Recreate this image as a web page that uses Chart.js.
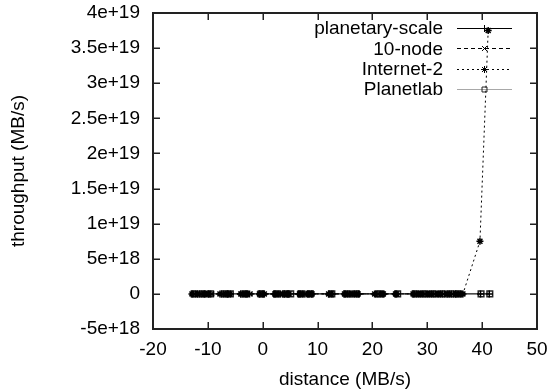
<!DOCTYPE html>
<html>
<head>
<meta charset="utf-8">
<script src="https://cdn.jsdelivr.net/npm/chart.js@4/dist/chart.umd.min.js"></script>
<style>
  body { margin: 0; background: #fff; }
</style>
</head>
<body>
<canvas id="grafico" width="553" height="391"></canvas>
<script>
// series names
const nomes = ['planetary-scale', '10-node', 'Internet-2', 'Planetlab'];

// planetary-scale
const planetaryX = [-12.7, -12.3, -11.9, -11.5, -11.1, -10.7, -10.3, -9.9, -9.5,
  -7.5, -7.1, -6.7, -6.3, -5.9,
  -4.0, -3.6, -3.2, -2.8, -2.4,
  -0.5, -0.1, 0.1,
  2.0, 2.4, 2.8, 3.2, 3.6, 4.0, 4.4, 4.8,
  6.5, 6.9, 7.3, 7.7, 8.1, 8.5, 8.9,
  12.1, 12.5, 12.8,
  15.1, 15.5, 15.9, 16.3, 16.7, 17.1, 17.6,
  20.6, 21.0, 21.4, 21.8, 22.1,
  24.4,
  27.6, 28.0, 28.4, 28.8, 29.2, 29.6, 30.0, 30.4, 30.8, 31.2, 31.6, 32.0, 32.4, 32.8, 33.2, 33.6, 34.0, 34.4, 34.8, 35.2, 35.6, 36.0,
  36.3, 39.7, 41.3];
const planetaryY = [0, 0, 0, 0, 0, 0, 0, 0, 0,
  0, 0, 0, 0, 0,
  0, 0, 0, 0, 0,
  0, 0, 0,
  0, 0, 0, 0, 0, 0, 0, 0,
  0, 0, 0, 0, 0, 0, 0,
  0, 0, 0,
  0, 0, 0, 0, 0, 0, 0,
  0, 0, 0, 0, 0,
  0,
  0, 0, 0, 0, 0, 0, 0, 0, 0, 0, 0, 0, 0, 0, 0, 0, 0, 0, 0, 0, 0, 0,
  0, 0, 0];

// 10-node
const nodeX = [-12.4, -11.2, -10.0, -9.3, -7.2, -6.0, -3.8, -2.3, -0.2, 2.4, 3.2, 4.8, 6.9, 7.7, 8.5, 12.4, 15.5, 16.4, 17.2, 21.0, 21.8, 24.4, 28.0, 28.8, 29.6, 31.3, 32.9, 34.5, 35.4, 36.1];
const nodeY = [0, 0, 0, 0, 0, 0, 0, 0, 0, 0, 0, 0, 0, 0, 0, 0, 0, 0, 0, 0, 0, 0, 0, 0, 0, 0, 0, 0, 0, 0];

// Internet-2
const internetX = [-12.9, -11.8, -10.6, -9.8, -7.8, -6.4, -4.0, -3.0, -0.6, 0.3, 2.2, 3.9, 4.6, 6.7, 8.3, 9.0, 12.0, 14.9, 16.1, 17.4, 20.4, 22.0, 24.2, 27.4, 28.6, 30.2, 31.9, 33.6, 35.2, 36.5, 39.6, 41.1];
const internetY = [0, 0, 0, 0, 0, 0, 0, 0, 0, 0, 0, 0, 0, 0, 0, 0, 0, 0, 0, 0, 0, 0, 0, 0, 0, 0, 0, 0, 0, 0, 7.5e18, 3.75e19];

// Planetlab
const planetlabX = [-12.5, -11.0, -9.5, -7.0, -5.9, -3.2, -0.3, 2.6, 4.2, 5.1, 7.0, 8.7, 12.6, 15.3, 17.0, 21.2, 24.6, 27.8, 29.4, 31.0, 32.7, 34.3, 35.6, 39.8, 41.4];
const planetlabY = [0, 0, 0, 0, 0, 0, 0, 0, 0, 0, 0, 0, 0, 0, 0, 0, 0, 0, 0, 0, 0, 0, 0, 0, 0];

// tick labels
const xTickLabels = ['-20', '-10', '0', '10', '20', '30', '40', '50'];
const yTickLabels = ['-5e+18', '0', '5e+18', '1e+19', '1.5e+19', '2e+19', '2.5e+19', '3e+19', '3.5e+19', '4e+19'];

const fonte = '"Liberation Sans", Arial, sans-serif';

function pares(xs, ys) {
  return xs.map((x, i) => ({ x: x, y: ys[i] }));
}

function desenhaPonto(ctx, estilo, x, y, r) {
  ctx.beginPath();
  if (estilo === 'cross' || estilo === 'star') {
    ctx.moveTo(x - r, y); ctx.lineTo(x + r, y);
    ctx.moveTo(x, y - r); ctx.lineTo(x, y + r);
  }
  if (estilo === 'crossRot' || estilo === 'star') {
    const d = r * Math.SQRT1_2;
    ctx.moveTo(x - d, y - d); ctx.lineTo(x + d, y + d);
    ctx.moveTo(x - d, y + d); ctx.lineTo(x + d, y - d);
  }
  if (estilo === 'rect') {
    const s = r * Math.SQRT1_2;
    ctx.rect(x - s, y - s, 2 * s, 2 * s);
  }
  ctx.stroke();
}

// box with inward ticks on all four sides, gnuplot style
// edges taken from the scales themselves
const moldura = {
  id: 'moldura',
  afterDraw(chart) {
    const { ctx, scales } = chart;
    const sx = scales.x, sy = scales.y;
    const l = Math.round(sx.getPixelForValue(sx.min)), r = Math.round(sx.getPixelForValue(sx.max));
    const t = Math.round(sy.getPixelForValue(sy.max)), b = Math.round(sy.getPixelForValue(sy.min));
    ctx.save();
    ctx.fillStyle = '#222';
    ctx.fillRect(l - 1, t - 1, r - l + 2, 2);
    ctx.fillRect(l - 1, b - 1, r - l + 2, 2);
    ctx.fillRect(l - 1, t - 1, 2, b - t + 2);
    ctx.fillRect(r - 1, t - 1, 2, b - t + 2);
    sx.ticks.forEach(tk => {
      const px = Math.round(sx.getPixelForValue(tk.value));
      ctx.fillRect(px - 0.5, b - 7, 1.5, 7);
      ctx.fillRect(px - 0.5, t, 1.5, 7);
    });
    sy.ticks.forEach(tk => {
      const py = Math.round(sy.getPixelForValue(tk.value));
      ctx.fillRect(l, py - 0.5, 7, 1.5);
      ctx.fillRect(r - 7, py - 0.5, 7, 1.5);
    });
    ctx.restore();
  }
};

// key in the top right corner
const legenda = {
  id: 'legenda',
  afterDraw(chart) {
    const ctx = chart.ctx;
    ctx.save();
    ctx.font = '19px ' + fonte;
    ctx.textAlign = 'right';
    ctx.textBaseline = 'middle';
    chart.data.datasets.forEach((ds, i) => {
      const y = 28 + i * 20.3;
      ctx.fillStyle = '#000';
      ctx.fillText(ds.label, 443, y + 1);
      ctx.strokeStyle = ds.borderColor;
      ctx.lineWidth = 1;
      ctx.setLineDash(ds.borderDash || []);
      ctx.beginPath();
      ctx.moveTo(457, Math.round(y) + 0.5);
      ctx.lineTo(512, Math.round(y) + 0.5);
      ctx.stroke();
      ctx.setLineDash([]);
      ctx.strokeStyle = ds.pointBorderColor;
      desenhaPonto(ctx, ds.pointStyle, 484.5, Math.round(y) + 0.5, 3.5);
    });
    ctx.restore();
  }
};

new Chart(document.getElementById('grafico'), {
  type: 'line',
  data: {
    datasets: [{
      label: nomes[0],
      data: pares(planetaryX, planetaryY),
      borderColor: '#000',
      borderWidth: 1,
      pointStyle: 'cross',
      pointRadius: 3.5,
      pointBorderColor: '#000',
      pointBorderWidth: 1.5,
      fill: false
    }, {
      label: nomes[1],
      data: pares(nodeX, nodeY),
      borderColor: '#000',
      borderWidth: 1,
      borderDash: [4, 3],
      pointStyle: 'crossRot',
      pointRadius: 3.5,
      pointBorderColor: '#000',
      pointBorderWidth: 1.5,
      fill: false
    }, {
      label: nomes[2],
      data: pares(internetX, internetY),
      borderColor: '#000',
      borderWidth: 1,
      borderDash: [2, 3],
      pointStyle: 'star',
      pointRadius: 3.5,
      pointBorderColor: '#000',
      pointBorderWidth: 1.5,
      fill: false
    }, {
      label: nomes[3],
      data: pares(planetlabX, planetlabY),
      borderColor: '#a8a8a8',
      borderWidth: 1,
      pointStyle: 'rect',
      pointRadius: 4,
      pointBorderColor: '#222',
      pointBackgroundColor: 'rgba(0,0,0,0)',
      pointBorderWidth: 1.5,
      fill: false
    }]
  },
  options: {
    responsive: false,
    animation: false,
    layout: { padding: { top: 13, right: 16, left: 0, bottom: 0 } },
    plugins: {
      legend: { display: false },
      tooltip: { enabled: false }
    },
    scales: {
      x: {
        type: 'linear',
        min: -20,
        max: 50,
        grid: { display: false, drawTicks: false },
        border: { display: false },
        ticks: {
          stepSize: 10,
          padding: 9,
          color: '#000',
          font: { family: fonte, size: 19 },
          maxRotation: 0,
          callback: (v, i) => xTickLabels[i]
        },
        title: {
          display: true,
          text: 'distance (MB/s)',
          color: '#000',
          font: { family: fonte, size: 19 },
          padding: { top: 2, bottom: 0 }
        },
        afterFit: s => { s.height = 62; s.paddingLeft = 0; s.paddingRight = 0; }
      },
      y: {
        type: 'linear',
        min: -5e18,
        max: 4e19,
        grid: { display: false, drawTicks: false },
        border: { display: false },
        ticks: {
          stepSize: 5e18,
          padding: 13,
          color: '#000',
          font: { family: fonte, size: 19 },
          callback: (v, i) => yTickLabels[i]
        },
        title: {
          display: true,
          text: 'throughput (MB/s)',
          color: '#000',
          font: { family: fonte, size: 19 },
          padding: { top: 7, bottom: 0 }
        },
        afterFit: s => { s.width = 153; s.paddingTop = 0; s.paddingBottom = 0; }
      }
    }
  },
  plugins: [moldura, legenda]
});
</script>
</body>
</html>
